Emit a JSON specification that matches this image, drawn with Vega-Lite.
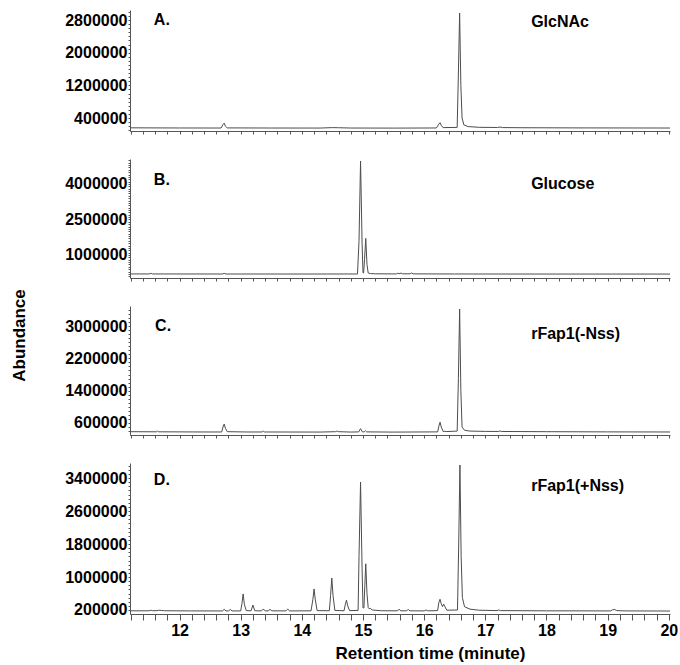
{
  "$schema": "https://vega.github.io/schema/vega-lite/v6.json",
  "padding": {"left": 10, "top": 10, "right": 0, "bottom": 2},
  "background": "white",
  "title": {"text": "Abundance", "orient": "left", "anchor": "middle", "font": "Liberation Sans", "fontSize": 17, "fontWeight": "bold", "color": "black", "offset": 36},
  "spacing": 24,
  "config": {
    "view": {"stroke": null},
    "font": "Liberation Sans",
    "axis": {"domainColor": "#555555", "tickColor": "#555555", "labelColor": "black", "labelFont": "Liberation Sans", "labelFontSize": 16, "labelFontWeight": "bold", "grid": false, "labelOverlap": false, "labelBound": false, "labelFlush": false, "tickCount": 200}
  },
  "datasets": {
    "A": [
      {"t": 11.19, "v": 160000}, {"t": 11.6, "v": 158000}, {"t": 12.0, "v": 156000}, {"t": 12.68, "v": 155000},
      {"t": 12.71, "v": 240000}, {"t": 12.73, "v": 275000}, {"t": 12.75, "v": 200000}, {"t": 12.78, "v": 158000},
      {"t": 13.5, "v": 155000}, {"t": 14.3, "v": 154000}, {"t": 14.5, "v": 165000}, {"t": 14.6, "v": 162000},
      {"t": 14.8, "v": 155000}, {"t": 15.5, "v": 153000}, {"t": 16.2, "v": 156000}, {"t": 16.24, "v": 250000},
      {"t": 16.26, "v": 285000}, {"t": 16.28, "v": 220000}, {"t": 16.31, "v": 165000}, {"t": 16.54, "v": 170000},
      {"t": 16.56, "v": 1500000}, {"t": 16.58, "v": 2970000}, {"t": 16.6, "v": 1200000}, {"t": 16.62, "v": 400000},
      {"t": 16.65, "v": 230000}, {"t": 16.72, "v": 190000}, {"t": 16.9, "v": 172000}, {"t": 17.2, "v": 168000},
      {"t": 17.24, "v": 180000}, {"t": 17.28, "v": 166000}, {"t": 17.6, "v": 162000}, {"t": 18.5, "v": 158000},
      {"t": 19.5, "v": 156000}, {"t": 20.02, "v": 155000}
    ],
    "B": [
      {"t": 11.19, "v": 200000}, {"t": 11.5, "v": 199000}, {"t": 11.53, "v": 225000}, {"t": 11.56, "v": 199000},
      {"t": 12.7, "v": 197000}, {"t": 12.73, "v": 225000}, {"t": 12.76, "v": 197000}, {"t": 14.0, "v": 196000},
      {"t": 14.91, "v": 198000}, {"t": 14.935, "v": 1600000}, {"t": 14.96, "v": 4970000}, {"t": 14.985, "v": 1500000},
      {"t": 15.0, "v": 250000}, {"t": 15.01, "v": 240000}, {"t": 15.025, "v": 800000}, {"t": 15.045, "v": 1700000},
      {"t": 15.065, "v": 600000}, {"t": 15.085, "v": 240000}, {"t": 15.12, "v": 215000}, {"t": 15.2, "v": 205000},
      {"t": 15.55, "v": 200000}, {"t": 15.57, "v": 235000}, {"t": 15.59, "v": 205000}, {"t": 15.62, "v": 235000},
      {"t": 15.645, "v": 205000}, {"t": 15.77, "v": 205000}, {"t": 15.79, "v": 240000}, {"t": 15.82, "v": 202000},
      {"t": 16.5, "v": 198000}, {"t": 17.5, "v": 196000}, {"t": 20.02, "v": 195000}
    ],
    "C": [
      {"t": 11.19, "v": 385000}, {"t": 11.62, "v": 382000}, {"t": 11.64, "v": 400000}, {"t": 11.66, "v": 382000},
      {"t": 12.4, "v": 378000}, {"t": 12.69, "v": 378000}, {"t": 12.71, "v": 500000}, {"t": 12.73, "v": 573000},
      {"t": 12.75, "v": 470000}, {"t": 12.78, "v": 385000}, {"t": 13.1, "v": 378000}, {"t": 13.35, "v": 378000},
      {"t": 13.37, "v": 400000}, {"t": 13.39, "v": 378000}, {"t": 14.3, "v": 376000}, {"t": 14.55, "v": 385000},
      {"t": 14.57, "v": 400000}, {"t": 14.6, "v": 385000}, {"t": 14.8, "v": 376000}, {"t": 14.93, "v": 380000},
      {"t": 14.96, "v": 460000}, {"t": 14.99, "v": 380000}, {"t": 15.02, "v": 380000}, {"t": 15.04, "v": 410000},
      {"t": 15.06, "v": 380000}, {"t": 15.5, "v": 375000}, {"t": 16.22, "v": 380000}, {"t": 16.24, "v": 520000},
      {"t": 16.26, "v": 620000}, {"t": 16.28, "v": 500000}, {"t": 16.31, "v": 390000}, {"t": 16.34, "v": 395000},
      {"t": 16.36, "v": 388000}, {"t": 16.54, "v": 400000}, {"t": 16.56, "v": 1700000}, {"t": 16.58, "v": 3420000},
      {"t": 16.6, "v": 1400000}, {"t": 16.62, "v": 500000}, {"t": 16.66, "v": 420000}, {"t": 16.75, "v": 400000},
      {"t": 17.0, "v": 392000}, {"t": 17.22, "v": 390000}, {"t": 17.24, "v": 405000}, {"t": 17.27, "v": 390000},
      {"t": 18.0, "v": 385000}, {"t": 19.0, "v": 380000}, {"t": 20.02, "v": 378000}
    ],
    "D": [
      {"t": 11.19, "v": 180000}, {"t": 11.5, "v": 180000}, {"t": 11.53, "v": 195000}, {"t": 11.56, "v": 182000},
      {"t": 11.63, "v": 185000}, {"t": 11.66, "v": 195000}, {"t": 11.7, "v": 190000}, {"t": 11.75, "v": 182000},
      {"t": 12.2, "v": 178000}, {"t": 12.7, "v": 177000}, {"t": 12.73, "v": 215000}, {"t": 12.76, "v": 178000},
      {"t": 12.8, "v": 178000}, {"t": 12.83, "v": 212000}, {"t": 12.86, "v": 178000}, {"t": 13.0, "v": 178000},
      {"t": 13.02, "v": 350000}, {"t": 13.04, "v": 590000}, {"t": 13.06, "v": 340000}, {"t": 13.09, "v": 185000},
      {"t": 13.17, "v": 180000}, {"t": 13.2, "v": 320000}, {"t": 13.23, "v": 182000}, {"t": 13.34, "v": 178000},
      {"t": 13.37, "v": 225000}, {"t": 13.4, "v": 178000}, {"t": 13.45, "v": 180000}, {"t": 13.48, "v": 215000},
      {"t": 13.51, "v": 180000}, {"t": 13.74, "v": 178000}, {"t": 13.77, "v": 222000}, {"t": 13.8, "v": 178000},
      {"t": 14.15, "v": 180000}, {"t": 14.18, "v": 450000}, {"t": 14.2, "v": 710000}, {"t": 14.22, "v": 450000},
      {"t": 14.25, "v": 185000}, {"t": 14.45, "v": 182000}, {"t": 14.47, "v": 550000}, {"t": 14.49, "v": 975000},
      {"t": 14.51, "v": 550000}, {"t": 14.54, "v": 190000}, {"t": 14.69, "v": 182000}, {"t": 14.71, "v": 330000},
      {"t": 14.73, "v": 440000}, {"t": 14.75, "v": 300000}, {"t": 14.78, "v": 185000}, {"t": 14.92, "v": 190000},
      {"t": 14.935, "v": 1500000}, {"t": 14.96, "v": 3300000}, {"t": 14.985, "v": 1200000}, {"t": 15.0, "v": 250000},
      {"t": 15.015, "v": 250000}, {"t": 15.03, "v": 800000}, {"t": 15.045, "v": 1320000}, {"t": 15.065, "v": 600000},
      {"t": 15.085, "v": 260000}, {"t": 15.1, "v": 230000}, {"t": 15.12, "v": 240000}, {"t": 15.15, "v": 200000},
      {"t": 15.3, "v": 182000}, {"t": 15.56, "v": 180000}, {"t": 15.59, "v": 215000}, {"t": 15.62, "v": 180000},
      {"t": 15.71, "v": 180000}, {"t": 15.74, "v": 210000}, {"t": 15.77, "v": 180000}, {"t": 16.0, "v": 178000},
      {"t": 16.03, "v": 200000}, {"t": 16.06, "v": 180000}, {"t": 16.22, "v": 185000}, {"t": 16.24, "v": 380000},
      {"t": 16.26, "v": 460000}, {"t": 16.28, "v": 350000}, {"t": 16.3, "v": 280000}, {"t": 16.32, "v": 340000},
      {"t": 16.34, "v": 280000}, {"t": 16.37, "v": 195000}, {"t": 16.545, "v": 200000}, {"t": 16.565, "v": 1800000},
      {"t": 16.585, "v": 3715000}, {"t": 16.605, "v": 1500000}, {"t": 16.625, "v": 500000}, {"t": 16.66, "v": 280000},
      {"t": 16.75, "v": 220000}, {"t": 16.9, "v": 195000}, {"t": 17.19, "v": 185000}, {"t": 17.22, "v": 200000},
      {"t": 17.25, "v": 185000}, {"t": 18.0, "v": 180000}, {"t": 19.05, "v": 178000}, {"t": 19.08, "v": 205000},
      {"t": 19.11, "v": 215000}, {"t": 19.15, "v": 185000}, {"t": 19.3, "v": 178000}, {"t": 20.02, "v": 175000}
    ],
    "labels": [
      {"panel": "A", "t": 11.58, "v": 2800000, "label": "A."},
      {"panel": "A", "t": 17.75, "v": 2750000, "label": "GlcNAc"},
      {"panel": "B", "t": 11.58, "v": 4170000, "label": "B."},
      {"panel": "B", "t": 17.75, "v": 4000000, "label": "Glucose"},
      {"panel": "C", "t": 11.6, "v": 3000000, "label": "C."},
      {"panel": "C", "t": 17.75, "v": 2800000, "label": "rFap1(-Nss)"},
      {"panel": "D", "t": 11.58, "v": 3350000, "label": "D."},
      {"panel": "D", "t": 17.75, "v": 3200000, "label": "rFap1(+Nss)"}
    ]
  },
  "vconcat": [
    {
      "width": 540, "height": 121,
      "layer": [
        {
          "data": {"name": "A"},
          "mark": {"type": "line", "stroke": "#4d4d4d", "strokeWidth": 1},
          "encoding": {
            "x": {"field": "t", "type": "quantitative", "scale": {"domain": [11.19, 20.02], "nice": false, "zero": false},
              "axis": {"title": null, "labels": false, "tickCount": 200, "tickMinStep": 0.01, "tickSize": 3, "values": [11.2,11.4,11.6,11.8,12,12.2,12.4,12.6,12.8,13,13.2,13.4,13.6,13.8,14,14.2,14.4,14.6,14.8,15,15.2,15.4,15.6,15.8,16,16.2,16.4,16.6,16.8,17,17.2,17.4,17.6,17.8,18,18.2,18.4,18.6,18.8,19,19.2,19.4,19.6,19.8,20]}},
            "y": {"field": "v", "type": "quantitative", "scale": {"domain": [82000, 3045000], "nice": false, "zero": false},
              "axis": {"title": null, "format": "d", "tickSize": 2, "labelPadding": 1, "labelOverlap": false, "tickCount": 200,
                "values": [100000,200000,300000,400000,500000,600000,700000,800000,900000,1000000,1100000,1200000,1300000,1400000,1500000,1600000,1700000,1800000,1900000,2000000,2100000,2200000,2300000,2400000,2500000,2600000,2700000,2800000,2900000,3000000],
                "labelFontSize": {"condition": {"test": "indexof([400000,1200000,2000000,2800000], datum.value) >= 0", "value": 16}, "value": 0},
                "labelExpr": "indexof([400000,1200000,2000000,2800000], datum.value) >= 0 ? datum.label : ''"}}
          }
        },
        {
          "data": {"name": "labels"},
          "transform": [{"filter": "datum.panel == 'A'"}],
          "mark": {"type": "text", "align": "left", "baseline": "middle", "fontSize": 16, "fontWeight": "bold", "font": "Liberation Sans", "color": "black"},
          "encoding": {"x": {"field": "t", "type": "quantitative"}, "y": {"field": "v", "type": "quantitative"}, "text": {"field": "label"}}
        }
      ]
    },
    {
      "width": 540, "height": 119,
      "layer": [
        {
          "data": {"name": "B"},
          "mark": {"type": "line", "stroke": "#4d4d4d", "strokeWidth": 1},
          "encoding": {
            "x": {"field": "t", "type": "quantitative", "scale": {"domain": [11.19, 20.02], "nice": false, "zero": false},
              "axis": {"title": null, "labels": false, "tickCount": 200, "tickMinStep": 0.01, "tickSize": 3, "values": [11.2,11.4,11.6,11.8,12,12.2,12.4,12.6,12.8,13,13.2,13.4,13.6,13.8,14,14.2,14.4,14.6,14.8,15,15.2,15.4,15.6,15.8,16,16.2,16.4,16.6,16.8,17,17.2,17.4,17.6,17.8,18,18.2,18.4,18.6,18.8,19,19.2,19.4,19.6,19.8,20]}},
            "y": {"field": "v", "type": "quantitative", "scale": {"domain": [28000, 5056000], "nice": false, "zero": false},
              "axis": {"title": null, "format": "d", "tickSize": 2, "labelPadding": 1, "labelOverlap": false, "tickCount": 200,
                "values": [100000,200000,300000,400000,500000,600000,700000,800000,900000,1000000,1100000,1200000,1300000,1400000,1500000,1600000,1700000,1800000,1900000,2000000,2100000,2200000,2300000,2400000,2500000,2600000,2700000,2800000,2900000,3000000,3100000,3200000,3300000,3400000,3500000,3600000,3700000,3800000,3900000,4000000,4100000,4200000,4300000,4400000,4500000,4600000,4700000,4800000,4900000,5000000],
                "labelFontSize": {"condition": {"test": "indexof([1000000,2500000,4000000], datum.value) >= 0", "value": 16}, "value": 0},
                "labelExpr": "indexof([1000000,2500000,4000000], datum.value) >= 0 ? datum.label : ''"}}
          }
        },
        {
          "data": {"name": "labels"},
          "transform": [{"filter": "datum.panel == 'B'"}],
          "mark": {"type": "text", "align": "left", "baseline": "middle", "fontSize": 16, "fontWeight": "bold", "font": "Liberation Sans", "color": "black"},
          "encoding": {"x": {"field": "t", "type": "quantitative"}, "y": {"field": "v", "type": "quantitative"}, "text": {"field": "label"}}
        }
      ]
    },
    {
      "width": 540, "height": 129,
      "layer": [
        {
          "data": {"name": "C"},
          "mark": {"type": "line", "stroke": "#4d4d4d", "strokeWidth": 1},
          "encoding": {
            "x": {"field": "t", "type": "quantitative", "scale": {"domain": [11.19, 20.02], "nice": false, "zero": false},
              "axis": {"title": null, "labels": false, "tickCount": 200, "tickMinStep": 0.01, "tickSize": 3, "values": [11.2,11.4,11.6,11.8,12,12.2,12.4,12.6,12.8,13,13.2,13.4,13.6,13.8,14,14.2,14.4,14.6,14.8,15,15.2,15.4,15.6,15.8,16,16.2,16.4,16.6,16.8,17,17.2,17.4,17.6,17.8,18,18.2,18.4,18.6,18.8,19,19.2,19.4,19.6,19.8,20]}},
            "y": {"field": "v", "type": "quantitative", "scale": {"domain": [303000, 3495000], "nice": false, "zero": false},
              "axis": {"title": null, "format": "d", "tickSize": 2, "labelPadding": 1, "labelOverlap": false, "tickCount": 200,
                "values": [400000,500000,600000,700000,800000,900000,1000000,1100000,1200000,1300000,1400000,1500000,1600000,1700000,1800000,1900000,2000000,2100000,2200000,2300000,2400000,2500000,2600000,2700000,2800000,2900000,3000000,3100000,3200000,3300000,3400000],
                "labelFontSize": {"condition": {"test": "indexof([600000,1400000,2200000,3000000], datum.value) >= 0", "value": 16}, "value": 0},
                "labelExpr": "indexof([600000,1400000,2200000,3000000], datum.value) >= 0 ? datum.label : ''"}}
          }
        },
        {
          "data": {"name": "labels"},
          "transform": [{"filter": "datum.panel == 'C'"}],
          "mark": {"type": "text", "align": "left", "baseline": "middle", "fontSize": 16, "fontWeight": "bold", "font": "Liberation Sans", "color": "black"},
          "encoding": {"x": {"field": "t", "type": "quantitative"}, "y": {"field": "v", "type": "quantitative"}, "text": {"field": "label"}}
        }
      ]
    },
    {
      "width": 540, "height": 151,
      "layer": [
        {
          "data": {"name": "D"},
          "mark": {"type": "line", "stroke": "#4d4d4d", "strokeWidth": 1},
          "encoding": {
            "x": {"field": "t", "type": "quantitative", "scale": {"domain": [11.19, 20.02], "nice": false, "zero": false},
              "axis": {"title": "Retention time (minute)", "titleFont": "Liberation Sans", "titleFontSize": 17, "titleFontWeight": "bold", "titleColor": "black", "titlePadding": 7, "titleX": 300,
                "labelPadding": 2, "labelOverlap": false, "tickCount": 200, "tickMinStep": 0.01, "tickSize": 6,
                "values": [11.2,11.4,11.6,11.8,12,12.2,12.4,12.6,12.8,13,13.2,13.4,13.6,13.8,14,14.2,14.4,14.6,14.8,15,15.2,15.4,15.6,15.8,16,16.2,16.4,16.6,16.8,17,17.2,17.4,17.6,17.8,18,18.2,18.4,18.6,18.8,19,19.2,19.4,19.6,19.8,20],
                "labelFontSize": {"condition": {"test": "abs(datum.value - round(datum.value)) < 0.001", "value": 16}, "value": 0},
                "labelExpr": "abs(datum.value - round(datum.value)) < 0.001 ? format(datum.value, 'd') : ''"}},
            "y": {"field": "v", "type": "quantitative", "scale": {"domain": [103000, 3764000], "nice": false, "zero": false},
              "axis": {"title": null, "format": "d", "tickSize": 2, "labelPadding": 1, "labelOverlap": false, "tickCount": 200,
                "values": [200000,300000,400000,500000,600000,700000,800000,900000,1000000,1100000,1200000,1300000,1400000,1500000,1600000,1700000,1800000,1900000,2000000,2100000,2200000,2300000,2400000,2500000,2600000,2700000,2800000,2900000,3000000,3100000,3200000,3300000,3400000,3500000,3600000,3700000],
                "labelFontSize": {"condition": {"test": "indexof([200000,1000000,1800000,2600000,3400000], datum.value) >= 0", "value": 16}, "value": 0},
                "labelExpr": "indexof([200000,1000000,1800000,2600000,3400000], datum.value) >= 0 ? datum.label : ''"}}
          }
        },
        {
          "data": {"name": "labels"},
          "transform": [{"filter": "datum.panel == 'D'"}],
          "mark": {"type": "text", "align": "left", "baseline": "middle", "fontSize": 16, "fontWeight": "bold", "font": "Liberation Sans", "color": "black"},
          "encoding": {"x": {"field": "t", "type": "quantitative"}, "y": {"field": "v", "type": "quantitative"}, "text": {"field": "label"}}
        }
      ]
    }
  ]
}
